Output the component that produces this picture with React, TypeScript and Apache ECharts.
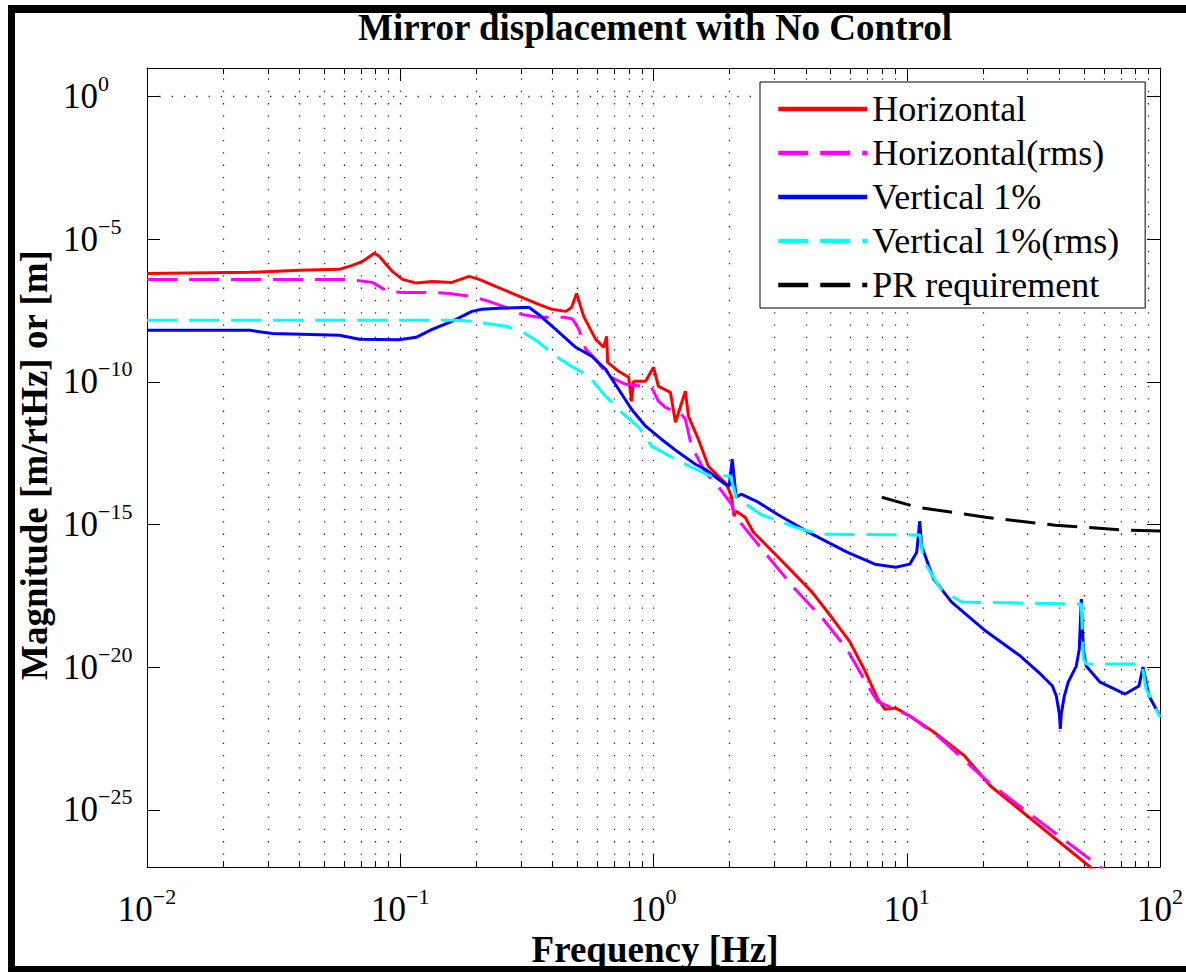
import React, { useEffect, useRef } from 'react';
import * as echarts from 'echarts';

const TITLE = 'Mirror displacement with No Control';
const X_TITLE = 'Frequency [Hz]';
const Y_TITLE = 'Magnitude [m/rtHz] or [m]';
const NAMES = ['Horizontal', 'Horizontal(rms)', 'Vertical 1%', 'Vertical 1%(rms)', 'PR requirement'];
const COLORS = ['#ff0000', '#ff00ff', '#0000ff', '#00ffff', '#000000'];

const X_MIN = 0.01;
const X_MAX = 100;
const Y_MIN = 1e-27;
const Y_MAX = 10;
const X_MAJOR = [0.01, 0.1, 1, 10, 100];
const X_MINOR = [
  0.02, 0.03, 0.04, 0.05, 0.06, 0.07, 0.08, 0.09,
  0.2, 0.3, 0.4, 0.5, 0.6, 0.7, 0.8, 0.9,
  2, 3, 4, 5, 6, 7, 8, 9,
  20, 30, 40, 50, 60, 70, 80, 90,
];
const Y_MAJOR = [1, 1e-5, 1e-10, 1e-15, 1e-20, 1e-25];

// Horizontal
const horizontalFreq = [0.01, 0.0255, 0.04, 0.0575, 0.0647, 0.0709, 0.079, 0.0827, 0.088, 0.093, 0.102, 0.1156, 0.1336, 0.16, 0.187, 0.205, 0.239, 0.302, 0.352, 0.397, 0.451, 0.475, 0.497, 0.53, 0.591, 0.635, 0.653, 0.659, 0.728, 0.798, 0.819, 0.834, 0.931, 1.0, 1.046, 1.166, 1.221, 1.336, 1.374, 1.503, 1.647, 1.8, 1.94, 2.03, 2.08, 2.12, 2.3, 2.48, 3.08, 4.23, 5.11, 5.97, 6.78, 7.69, 8.19, 9.05, 10.28, 12.77, 16.92, 21.4, 53.0, 61.8];
const horizontalMag = [6.35e-7, 6.9e-7, 8.1e-7, 8.8e-7, 1.21e-6, 1.67e-6, 3.2e-6, 2.5e-6, 1.31e-6, 7.5e-7, 3.9e-7, 2.9e-7, 3.3e-7, 3.07e-7, 5.0e-7, 3.9e-7, 2.2e-7, 9.2e-8, 5.2e-8, 3.5e-8, 2.96e-8, 4.1e-8, 1.26e-7, 1.98e-8, 3.1e-9, 1.63e-9, 3.95e-9, 4.85e-10, 2.35e-10, 1.45e-10, 2.1e-11, 1.05e-10, 1.05e-10, 3.25e-10, 7.0e-11, 4.3e-11, 3.85e-12, 4.7e-11, 6.25e-12, 9.8e-13, 1.11e-13, 5.0e-14, 2.6e-14, 9.9e-15, 1.97e-15, 2.95e-15, 1.8e-15, 5.4e-16, 7.8e-17, 4.3e-18, 4.9e-19, 7.6e-20, 8.7e-21, 7.7e-22, 3.4e-22, 3.7e-22, 1.95e-22, 5.4e-23, 7.8e-24, 6.9e-25, 1.0e-27, 3.5e-28];

// Horizontal(rms)
const horizontalRmsFreq = [0.01, 0.063, 0.0776, 0.0889, 0.102, 0.13, 0.156, 0.192, 0.224, 0.261, 0.302, 0.352, 0.451, 0.48, 0.507, 0.54, 0.591, 0.665, 0.776, 0.982, 1.046, 1.114, 1.288, 1.336, 1.412, 1.6, 1.8, 2.03, 2.1, 2.26, 2.89, 3.62, 4.67, 5.81, 7.02, 7.69, 8.65, 10.28, 13.24, 21.4, 58.0, 64.7];
const horizontalRmsMag = [3.9e-7, 3.9e-7, 3.07e-7, 1.49e-7, 1.37e-7, 1.37e-7, 1.26e-7, 9.9e-8, 6.6e-8, 4.1e-8, 2.3e-8, 1.83e-8, 1.83e-8, 1.56e-8, 6.9e-9, 1.38e-9, 6.2e-10, 1.57e-10, 8.2e-11, 6.5e-11, 2.1e-11, 1.29e-11, 7.3e-12, 4.9e-12, 5.6e-13, 6.8e-14, 2.2e-14, 5.2e-15, 1.97e-15, 8.8e-16, 6.1e-17, 5.5e-18, 4.9e-19, 4.3e-20, 2.2e-21, 6.1e-22, 4.0e-22, 1.95e-22, 3.9e-23, 8.1e-25, 1.0e-27, 5.3e-28];

// Vertical 1%
const verticalFreq = [0.01, 0.0255, 0.0313, 0.0575, 0.069, 0.099, 0.1156, 0.1336, 0.16, 0.192, 0.21, 0.245, 0.322, 0.352, 0.411, 0.493, 0.57, 0.647, 0.728, 0.819, 0.931, 1.074, 1.254, 1.463, 1.6, 1.92, 1.99, 2.046, 2.12, 2.22, 2.59, 3.08, 4.23, 5.81, 7.48, 9.05, 10.28, 10.95, 11.25, 11.46, 12.77, 15.04, 20.5, 28.1, 33.1, 37.6, 38.96, 40.05, 40.4, 40.76, 41.9, 43.4, 46.7, 48.0, 48.9, 49.8, 51.1, 58.0, 72.8, 82.6, 85.7, 90.5, 100];
const verticalMag = [6.4e-9, 6.4e-9, 5.0e-9, 4.3e-9, 3.1e-9, 3.0e-9, 3.65e-9, 6.9e-9, 1.32e-8, 2.96e-8, 3.5e-8, 3.8e-8, 4.1e-8, 2.3e-8, 6.9e-9, 1.63e-9, 7.9e-10, 2.76e-10, 5.5e-11, 1.1e-11, 2.8e-12, 9.8e-13, 3.4e-13, 1.3e-13, 8.7e-14, 2.6e-14, 2.2e-14, 1.95e-13, 9.1e-15, 1.16e-14, 6.1e-15, 2.3e-15, 4.6e-16, 1.08e-16, 4.1e-17, 3.2e-17, 4.1e-17, 1.08e-16, 1.32e-15, 1.75e-16, 1.22e-17, 1.92e-18, 1.85e-19, 2.47e-20, 6.8e-21, 2.2e-21, 9.8e-22, 2.3e-22, 6.9e-23, 2.3e-22, 9.8e-22, 3.0e-21, 1.1e-20, 4.3e-20, 2.44e-18, 4.3e-20, 1.1e-20, 3.0e-21, 1.15e-21, 2.2e-21, 1.02e-20, 9.8e-22, 1.95e-22];

// Vertical 1%(rms)
const verticalRmsFreq = [0.01, 0.166, 0.192, 0.261, 0.302, 0.352, 0.411, 0.475, 0.555, 0.647, 0.748, 0.873, 0.982, 1.177, 1.412, 1.692, 2.01, 2.12, 2.64, 3.62, 4.51, 11.25, 11.56, 11.99, 13.6, 16.47, 48.9, 49.8, 51.1, 84.9, 88.1, 100];
const verticalRmsMag = [1.44e-8, 1.44e-8, 1.32e-8, 8.9e-9, 5.9e-9, 2.44e-9, 7.9e-10, 3.5e-10, 1.57e-10, 3.1e-11, 8.6e-12, 2.6e-12, 5.6e-13, 2.3e-13, 1.02e-13, 5.0e-14, 5.0e-14, 9.1e-15, 2.3e-15, 8.1e-16, 4.6e-16, 4.3e-16, 9.2e-17, 3.5e-17, 5.5e-18, 1.92e-18, 1.63e-18, 1.94e-20, 1.29e-20, 1.29e-20, 1.72e-21, 1.8e-22];

// PR requirement
const requirementFreq = [7.97, 10.95, 20.5, 38.6, 72.8, 100];
const requirementMag = [9.1e-15, 4.1e-15, 1.8e-15, 9.5e-16, 6.4e-16, 5.9e-16];

const SERIF = '"Liberation Serif", "Times New Roman", Times, serif';

const zip = (f: number[], m: number[]) => f.map((x, i) => [x, m[i]]);

const expLabel = (v: number) => {
  const e = Math.round(Math.log10(v));
  const s = e < 0 ? '\u2212' + String(-e) : String(e);
  return `{b|10}{s|${s}}`;
};

const labelRich = {
  b: { fontFamily: SERIF, fontSize: 35, lineHeight: 48, color: '#000' },
  s: { fontFamily: SERIF, fontSize: 22, lineHeight: 20, verticalAlign: 'top', color: '#000' },
};

function tickOnlyX(position: string, values: number[], len: number, showLine: boolean) {
  return {
    type: 'log', gridIndex: 0, position, min: X_MIN, max: X_MAX,
    axisLine: { show: showLine, onZero: false, lineStyle: { color: '#000', width: 1 } },
    axisTick: { show: true, inside: true, length: len, customValues: values, lineStyle: { color: '#000', width: 1 } },
    axisLabel: { show: false },
    splitLine: { show: false },
    minorTick: { show: false },
    minorSplitLine: { show: false },
  };
}

export default function App() {
  const ref = useRef<HTMLDivElement>(null);
  useEffect(() => {
    document.body.style.margin = '0';
    if (!ref.current) return;
    const chart = echarts.init(ref.current, undefined, { renderer: 'svg' });
    const dash = [30, 12];
    const lineDefs = [
      { data: zip(horizontalFreq, horizontalMag), type: 'solid' },
      { data: zip(horizontalRmsFreq, horizontalRmsMag), type: dash },
      { data: zip(verticalFreq, verticalMag), type: 'solid' },
      { data: zip(verticalRmsFreq, verticalRmsMag), type: dash },
      { data: zip(requirementFreq, requirementMag), type: dash },
    ];
    const gridLines = [
      ...X_MINOR.map((v) => ({ xAxis: v })),
      ...X_MAJOR.slice(1, -1).map((v) => ({ xAxis: v })),
      ...Y_MAJOR.map((v) => ({ yAxis: v })),
    ];
    const option: any = {
      animation: false,
      backgroundColor: '#ffffff',
      grid: { left: 147, top: 68, width: 1016, height: 799, containLabel: false },
      xAxis: [
        {
          type: 'log', gridIndex: 0, position: 'bottom', min: X_MIN, max: X_MAX,
          axisLine: { show: true, onZero: false, lineStyle: { color: '#000', width: 1 } },
          axisTick: { show: true, inside: true, length: 13, customValues: X_MAJOR, lineStyle: { color: '#000', width: 1 } },
          axisLabel: { show: true, customValues: X_MAJOR, margin: 18, formatter: expLabel, rich: labelRich },
          splitLine: { show: false },
          minorTick: { show: false },
        },
        tickOnlyX('bottom', X_MINOR, 6, false),
        tickOnlyX('top', X_MAJOR, 13, true),
        tickOnlyX('top', X_MINOR, 6, false),
      ],
      yAxis: [
        {
          type: 'log', gridIndex: 0, position: 'left', min: Y_MIN, max: Y_MAX,
          axisLine: { show: true, onZero: false, lineStyle: { color: '#000', width: 1 } },
          axisTick: { show: true, inside: true, length: 13, customValues: Y_MAJOR, lineStyle: { color: '#000', width: 1 } },
          axisLabel: { show: true, customValues: Y_MAJOR, margin: 84, align: 'left', formatter: expLabel, rich: labelRich },
          splitLine: { show: false },
          minorTick: { show: false },
        },
        {
          type: 'log', gridIndex: 0, position: 'right', min: Y_MIN, max: Y_MAX,
          axisLine: { show: true, onZero: false, lineStyle: { color: '#000', width: 1 } },
          axisTick: { show: true, inside: true, length: 13, customValues: Y_MAJOR, lineStyle: { color: '#000', width: 1 } },
          axisLabel: { show: false },
          splitLine: { show: false },
          minorTick: { show: false },
        },
      ],
      legend: {
        data: NAMES,
        orient: 'vertical',
        left: 760,
        top: 82,
        padding: [9, 26, 5, 16],
        itemWidth: 89,
        itemHeight: 14,
        itemGap: 8,
        backgroundColor: '#ffffff',
        borderColor: '#000000',
        borderWidth: 1,
        borderRadius: 0,
        lineStyle: { width: 4.5 },
        itemStyle: { opacity: 0, borderWidth: 0 },
        textStyle: { fontFamily: SERIF, fontSize: 36, lineHeight: 36, color: '#000' },
        selectedMode: false,
        z: 10,
      },
      graphic: [
        { type: 'rect', shape: { x: 8, y: 5, width: 7, height: 967 }, style: { fill: '#000' }, silent: true },
        { type: 'rect', shape: { x: 8, y: 5, width: 1178, height: 8 }, style: { fill: '#000' }, silent: true },
        { type: 'rect', shape: { x: 8, y: 966, width: 1178, height: 6 }, style: { fill: '#000' }, silent: true },
        {
          type: 'text', x: 655, y: 27, silent: true,
          style: { text: TITLE, fontFamily: SERIF, fontSize: 37, fontWeight: 'bold', fill: '#000', align: 'center', verticalAlign: 'middle', textAlign: 'center', textVerticalAlign: 'middle' },
        },
        {
          type: 'text', x: 655, y: 949, silent: true,
          style: { text: X_TITLE, fontFamily: SERIF, fontSize: 37, fontWeight: 'bold', fill: '#000', align: 'center', verticalAlign: 'middle', textAlign: 'center', textVerticalAlign: 'middle' },
        },
        {
          type: 'text', x: 34, y: 465, rotation: Math.PI / 2, silent: true,
          style: { text: Y_TITLE, fontFamily: SERIF, fontSize: 37, fontWeight: 'bold', fill: '#000', align: 'center', verticalAlign: 'middle', textAlign: 'center', textVerticalAlign: 'middle' },
        },
      ],
      series: [
        {
          name: '__grid', type: 'line', data: [], z: 1, silent: true,
          symbol: 'none', lineStyle: { opacity: 0 },
          markLine: {
            silent: true, symbol: ['none', 'none'], label: { show: false },
            lineStyle: { color: '#222', width: 1.3, type: [1.3, 11] },
            emphasis: { disabled: true },
            data: gridLines,
          },
        },
        ...lineDefs.map((d, i) => ({
          name: NAMES[i], type: 'line', data: d.data, showSymbol: false, symbol: 'none',
          clip: true, z: 3 + i, silent: true,
          lineStyle: { color: COLORS[i], width: 3, type: d.type },
          itemStyle: { color: COLORS[i] },
        })),
      ],
    };
    chart.setOption(option);
    return () => chart.dispose();
  }, []);
  return <div ref={ref} style={{ width: 1186, height: 972 }} />;
}
